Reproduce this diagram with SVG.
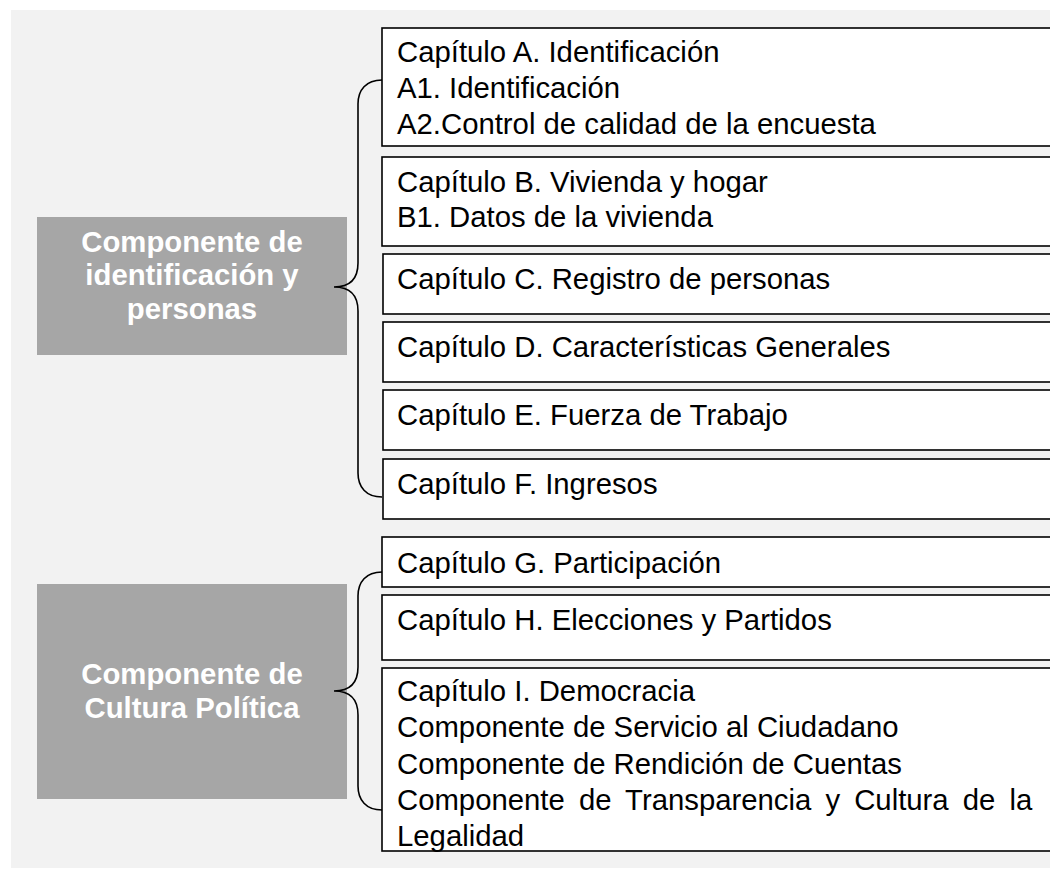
<svg xmlns="http://www.w3.org/2000/svg" width="1050" height="869" viewBox="0 0 1050 869">
<style>
.bg{fill:#f2f2f2}
.lbl{fill:#a6a6a6}
.box{fill:#ffffff;stroke:#000000;stroke-width:1.6}
.t{font-family:"Liberation Sans",Arial,sans-serif;font-size:29.3px;fill:#000000}
.lt{font-family:"Liberation Sans",Arial,sans-serif;font-size:29.3px;font-weight:bold;fill:#ffffff;text-anchor:middle}
.brace{fill:none;stroke:#000000;stroke-width:1.6}
</style>
<rect class="bg" x="11" y="10" width="1039" height="858"/>
<g id="comp1">
<rect class="lbl" x="37" y="217" width="310" height="138"/>
<text class="lt" x="192" y="251.5">Componente de</text>
<text class="lt" x="192" y="285">identificación y</text>
<text class="lt" x="192" y="318.5">personas</text>
</g>
<g id="comp2">
<rect class="lbl" x="37" y="584" width="310" height="215"/>
<text class="lt" x="192" y="684">Componente de</text>
<text class="lt" x="192" y="717.5">Cultura Política</text>
</g>
<g id="capA">
<rect class="box" x="382" y="28" width="680" height="118"/>
<text class="t" x="397" y="61.5">Capítulo A. Identificación</text>
<text class="t" x="397" y="97.5">A1. Identificación</text>
<text class="t" x="397" y="133.5">A2.Control de calidad de la encuesta</text>
</g>
<g id="capB">
<rect class="box" x="382" y="157" width="680" height="89"/>
<text class="t" x="397" y="191.5">Capítulo B. Vivienda y hogar</text>
<text class="t" x="397" y="227">B1. Datos de la vivienda</text>
</g>
<g id="capC">
<rect class="box" x="383" y="254" width="680" height="60"/>
<text class="t" x="397" y="289">Capítulo C. Registro de personas</text>
</g>
<g id="capD">
<rect class="box" x="383" y="322" width="680" height="60"/>
<text class="t" x="397" y="357">Capítulo D. Características Generales</text>
</g>
<g id="capE">
<rect class="box" x="383" y="390" width="680" height="60"/>
<text class="t" x="397" y="425">Capítulo E. Fuerza de Trabajo</text>
</g>
<g id="capF">
<rect class="box" x="383" y="459" width="680" height="60"/>
<text class="t" x="397" y="494">Capítulo F. Ingresos</text>
</g>
<g id="capG">
<rect class="box" x="382" y="537" width="680" height="50"/>
<text class="t" x="397" y="572.5">Capítulo G. Participación</text>
</g>
<g id="capH">
<rect class="box" x="382" y="595" width="680" height="65"/>
<text class="t" x="397" y="629.5">Capítulo H. Elecciones y Partidos</text>
</g>
<g id="capI">
<rect class="box" x="382" y="668" width="680" height="183"/>
<text class="t" x="397" y="701">Capítulo I. Democracia</text>
<text class="t" x="397" y="737.3">Componente de Servicio al Ciudadano</text>
<text class="t" x="397" y="773.6">Componente de Rendición de Cuentas</text>
<text class="t" x="397" y="809.9" word-spacing="6">Componente de Transparencia y Cultura de la</text>
<text class="t" x="397" y="846">Legalidad</text>
</g>
<g id="connectors">
<path class="brace" d="M382,80 C366,80 358,90 358,104 L358,263 C358,279 350,287 334,287 C350,287 358,295 358,311 L358,473 C358,487 366,497 382,497"/>
<path class="brace" d="M382,572 C366,572 358,582 358,596 L358,667 C358,683 350,691 334,691 C350,691 358,699 358,715 L358,786 C358,800 366,810 382,810"/>
</g>
</svg>
